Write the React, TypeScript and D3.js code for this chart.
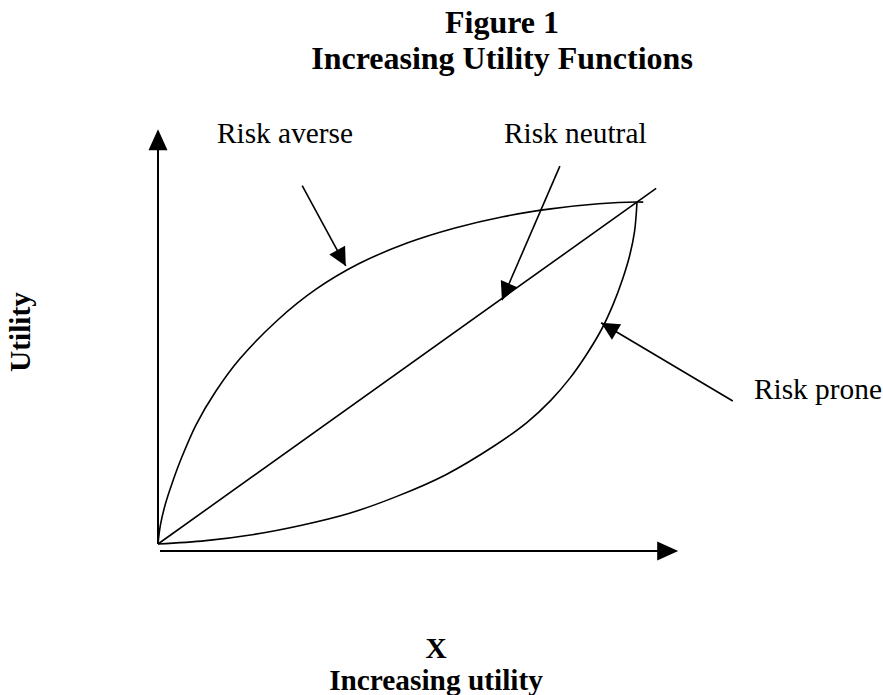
import React from "react";
import * as d3 from "d3";

// ---- data (in percent of the plot extent) ----
const riskAverse: [number, number][] = [
  [0, 0], [0.5, 5.5], [1.5, 11.5], [3, 18], [5, 25.5], [8, 35], [12, 44.5],
  [17, 54], [25, 65.5], [33, 74.5], [42, 82], [52, 88], [62, 92.4],
  [72, 95.7], [82, 98], [92, 99.5], [100, 100], [101.3, 99.95],
];
const riskNeutral: [number, number][] = [[0, 0], [104, 104]];
const riskProne: [number, number][] = [
  [0, 0], [10, 1], [20, 2.8], [30, 5.5], [40, 9], [50, 14], [60, 20.2],
  [70, 28.5], [77, 35.5], [82, 42], [86, 48.5], [89.5, 55.5], [92.5, 62.5],
  [95, 70], [97, 77.5], [98.5, 84.5], [99.5, 91.5], [100, 100],
];
const axisYTop = 121.3;
const axisXRight = 108.6;

const labels = ["Risk averse", "Risk neutral", "Risk prone"];
const labelArrowFrom: [number, number][] = [[30.1, 104.8], [83.9, 110.5], [120, 41.8]];
const labelArrowTo: [number, number][] = [[39.2, 81.3], [71.8, 71.3], [92.5, 64.7]];

const titleLines = ["Figure 1", "Increasing Utility Functions"];
const xTitleLines = ["X", "Increasing utility"];
const yTitle = "Utility";

// ---- layout ----
const W = 883;
const H = 695;
const FONT = "'Liberation Serif', 'Times New Roman', Times, serif";
const FS = 29.33;
const TITLE_FS = 32;
const labelPos: [number, number][] = [[217, 143], [504, 143], [754, 398.5]];

function head(tx: number, ty: number, fx: number, fy: number, len: number, hw: number) {
  const dx = tx - fx, dy = ty - fy;
  const d = Math.hypot(dx, dy);
  const ux = dx / d, uy = dy / d;
  const bx = tx - ux * len, by = ty - uy * len;
  const px = -uy, py = ux;
  return `M${tx},${ty}L${bx + px * hw},${by + py * hw}L${bx - px * hw},${by - py * hw}Z`;
}

export default function App() {
  const x = d3.scaleLinear().domain([0, 100]).range([158, 637]);
  const y = d3.scaleLinear().domain([0, 100]).range([544, 202]);
  const line = d3
    .line<[number, number]>()
    .x((d) => x(d[0]))
    .y((d) => y(d[1]))
    .curve(d3.curveCatmullRom.alpha(0.5));
  const straight = d3
    .line<[number, number]>()
    .x((d) => x(d[0]))
    .y((d) => y(d[1]));

  const xAxisY = y(0) + 7;
  const xTip = x(axisXRight);
  const yTip = y(axisYTop);

  return (
    <svg
      width={W}
      height={H}
      style={{ position: "absolute", left: 0, top: 0, background: "#fff" }}
      fontFamily={FONT}
    >
      <rect x={0} y={0} width={W} height={H} fill="#fff" />
      {/* title */}
      {titleLines.map((t, i) => (
        <text key={t} x={502} y={33 + i * 36} textAnchor="middle" fontWeight="bold" fontSize={TITLE_FS} fill="#000">
          {t}
        </text>
      ))}
      {/* axes */}
      <line x1={x(0)} y1={y(0)} x2={x(0)} y2={yTip + 18} stroke="#000" strokeWidth={2} />
      <path d={head(x(0), yTip, x(0), y(0), 21, 9.5)} fill="#000" />
      <line x1={x(0) + 2} y1={xAxisY} x2={xTip - 18} y2={xAxisY} stroke="#000" strokeWidth={2} />
      <path d={head(xTip, xAxisY, x(0), xAxisY, 21, 9.5)} fill="#000" />
      {/* curves */}
      <path d={line(riskAverse) || ""} fill="none" stroke="#000" strokeWidth={1.6} />
      <path d={straight(riskNeutral) || ""} fill="none" stroke="#000" strokeWidth={1.6} />
      <path d={line(riskProne) || ""} fill="none" stroke="#000" strokeWidth={1.6} />
      {/* labels with arrows */}
      {labels.map((l, i) => {
        const fx = x(labelArrowFrom[i][0]), fy = y(labelArrowFrom[i][1]);
        const tx = x(labelArrowTo[i][0]), ty = y(labelArrowTo[i][1]);
        return (
          <g key={l}>
            <text x={labelPos[i][0]} y={labelPos[i][1]} fontSize={FS} fill="#000">
              {l}
            </text>
            <line x1={fx} y1={fy} x2={tx} y2={ty} stroke="#000" strokeWidth={1.6} />
            <path d={head(tx, ty, fx, fy, 18, 9)} fill="#000" />
          </g>
        );
      })}
      {/* axis titles */}
      {xTitleLines.map((t, i) => (
        <text key={t} x={436} y={658 + i * 32} textAnchor="middle" fontWeight="bold" fontSize={FS} fill="#000">
          {t}
        </text>
      ))}
      <text
        transform={`translate(30,332) rotate(-90)`}
        textAnchor="middle"
        fontWeight="bold"
        fontSize={FS}
        fill="#000"
      >
        {yTitle}
      </text>
    </svg>
  );
}
